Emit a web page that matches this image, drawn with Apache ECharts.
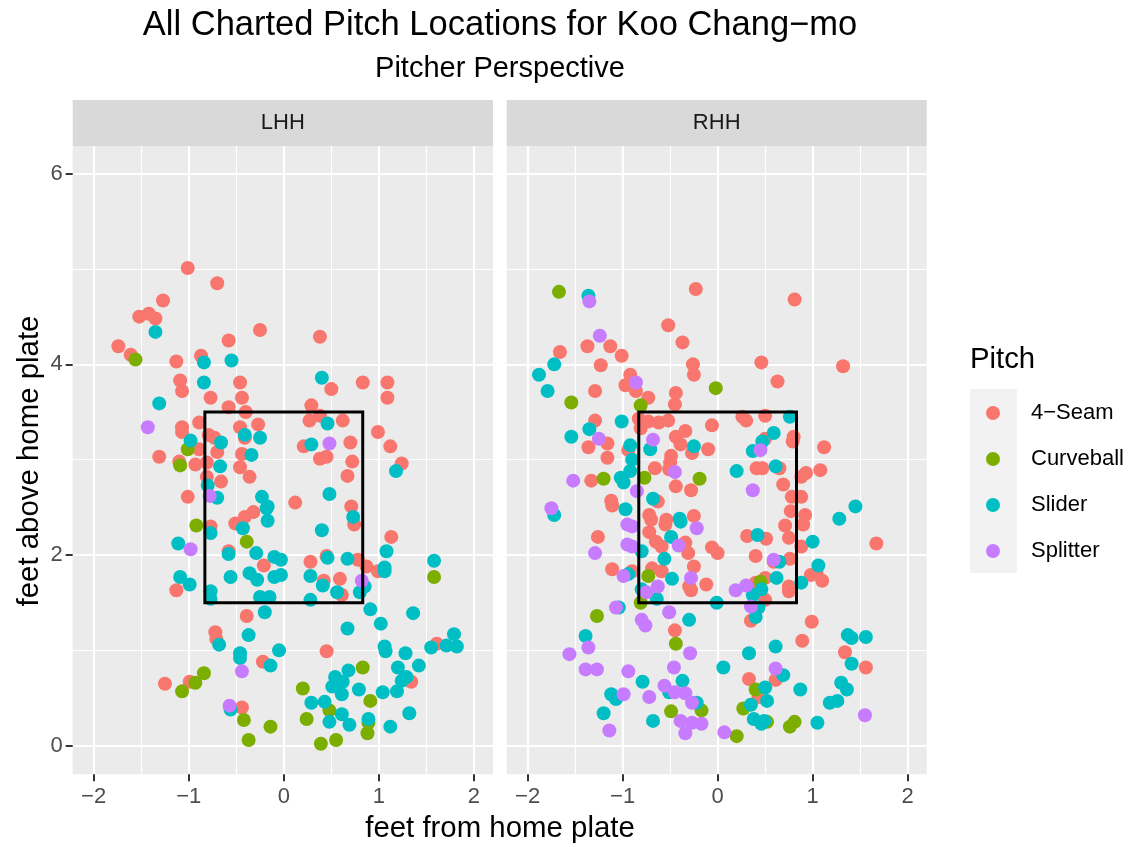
<!DOCTYPE html>
<html><head><meta charset="utf-8">
<script src="https://cdn.jsdelivr.net/npm/echarts@6/dist/echarts.min.js"></script>
<style>html,body{margin:0;padding:0;background:#fff}#c{width:1138px;height:847px}</style>
</head><body><div id="c"></div>
<script>
// ---- data ----
const pitchTypes = ['4-Seam', 'Curveball', 'Slider', 'Splitter'];
const pitchColors = ['#F8766D', '#7CAE00', '#00BFC4', '#C77CFF'];
const facets = ['LHH', 'RHH'];
const xTicks = [-2, -1, 0, 1, 2];
const xMinorTicks = [-1.5, -0.5, 0.5, 1.5];
const yTicks = [0, 2, 4, 6];
const yMinorTicks = [1, 3, 5];
const zoneX = [-0.83, 0.83, 0.83, -0.83, -0.83];
const zoneY = [1.5, 1.5, 3.5, 3.5, 1.5];

const lhhFourSeam = [[-1.01,5.01],[-0.70,4.85],[-1.27,4.67],[-1.52,4.50],[-1.42,4.53],[-1.35,4.48],[-0.25,4.36],[-1.74,4.19],[-1.61,4.10],[-0.58,4.25],[-1.13,4.03],[-0.87,4.09],[-1.09,3.83],[-1.07,3.72],[-0.46,3.81],[-0.77,3.65],[-0.44,3.65],[-0.58,3.55],[-0.40,3.50],[-1.07,3.34],[-1.07,3.29],[-0.89,3.39],[-0.46,3.34],[-0.27,3.37],[-0.41,3.23],[-0.79,3.26],[-0.73,3.23],[-0.89,3.11],[-0.70,3.08],[-0.44,3.06],[-1.31,3.03],[-1.10,2.98],[-0.93,2.95],[-0.81,2.97],[-0.46,2.92],[-0.36,2.82],[-0.81,2.82],[-0.66,2.77],[-1.01,2.61],
[0.38,4.29],[0.50,3.74],[0.83,3.81],[1.09,3.81],[1.09,3.65],[0.29,3.57],[0.38,3.46],[0.27,3.41],[0.62,3.41],[0.99,3.29],[0.21,3.14],[0.70,3.18],[1.12,3.14],[0.38,3.01],[0.45,3.03],[0.72,2.98],[1.24,2.96],[0.67,2.83],[0.12,2.55],[0.71,2.51],
[-0.77,2.30],[-0.51,2.33],[-0.41,2.40],[-0.32,2.45],[-0.58,2.04],[-0.21,1.89],[-1.13,1.63],[-0.39,1.36],[-0.72,1.19],[-0.71,1.12],[-0.22,0.88],[-1.25,0.65],[-0.99,0.67],[-0.44,0.40],
[0.74,2.32],[1.13,2.19],[0.28,1.93],[0.45,1.99],[0.78,1.95],[0.87,1.88],[0.99,1.83],[0.42,1.73],[0.59,1.75],[0.61,1.58],[0.45,0.99],[1.61,1.07],[1.34,0.67]];
const lhhCurveball = [[-1.56,4.05],[-1.01,3.11],[-1.09,2.94],[-0.92,2.31],[-0.39,2.14],[-0.84,0.76],[-0.93,0.66],[-1.07,0.57],[-0.42,0.27],[-0.14,0.20],[-0.37,0.06],[1.58,1.77],[0.83,0.82],[0.20,0.60],[0.91,0.47],[0.48,0.37],[0.24,0.28],[0.89,0.24],[0.88,0.13],[0.39,0.02],[0.55,0.06]];
const lhhSlider = [[-1.35,4.34],[-0.84,4.02],[-0.55,4.04],[-0.84,3.81],[-1.31,3.59],[-0.41,3.26],[-0.25,3.23],[-0.98,3.20],[-0.66,3.18],[-0.34,3.05],[-0.67,2.93],[-0.80,2.73],[-0.70,2.60],[-0.23,2.61],[-0.17,2.51],
[0.40,3.86],[0.46,3.38],[0.29,3.16],[1.18,2.88],[0.48,2.64],
[-0.77,2.23],[-0.43,2.28],[-0.18,2.49],[-0.17,2.36],[-1.11,2.12],[-0.58,2.01],[-0.29,2.02],[-0.10,1.98],[-0.03,1.95],[-0.36,1.81],[-0.28,1.74],[-0.10,1.77],[-0.03,1.79],[-0.56,1.77],[-1.09,1.77],[-0.99,1.69],[-0.77,1.62],[-0.77,1.54],[-0.25,1.56],[-0.15,1.56],[-0.20,1.40],[-0.68,1.06],[-0.37,1.16],[-0.46,0.97],[-0.46,0.92],[-0.05,1.00],[-0.14,0.84],[-0.56,0.38],
[0.73,2.40],[0.40,2.26],[1.08,2.04],[0.46,1.97],[0.67,1.96],[1.06,1.87],[1.06,1.83],[1.58,1.94],[0.28,1.78],[0.41,1.68],[0.56,1.61],[0.85,1.67],[0.80,1.61],[0.28,1.53],[0.91,1.43],[1.02,1.28],[1.36,1.39],[0.67,1.23],[1.06,1.04],[1.07,0.99],[1.28,0.97],[1.55,1.03],[1.71,1.05],[1.82,1.04],[1.79,1.17],[1.42,0.84],[1.20,0.82],[1.29,0.72],[1.24,0.68],[0.68,0.79],[0.54,0.72],[0.62,0.67],[0.51,0.62],[0.79,0.59],[0.61,0.54],[1.04,0.56],[1.19,0.57],[0.29,0.45],[0.43,0.46],[0.61,0.33],[1.32,0.34],[0.48,0.25],[0.69,0.22],[0.89,0.28],[1.12,0.20]];
const lhhSplitter = [[-1.43,3.34],[-0.78,2.62],[0.48,3.17],[-0.98,2.06],[-0.44,0.78],[-0.57,0.42],[0.82,1.73]];

const rhhFourSeam = [[-0.23,4.79],[-0.52,4.41],[-0.37,4.23],[-1.66,4.13],[-1.37,4.19],[-1.13,4.19],[-1.01,4.09],[-1.23,3.99],[-0.26,4.00],[-0.25,3.89],[-0.92,3.89],[-0.97,3.78],[-0.86,3.72],[-1.29,3.72],[-0.73,3.65],[-0.44,3.70],[-0.45,3.58],[-1.29,3.41],[-0.83,3.43],[-0.73,3.40],[-0.62,3.39],[-0.52,3.41],[-0.81,3.33],[-0.34,3.30],[-0.06,3.36],[-0.44,3.24],[-1.16,3.17],[-1.36,3.13],[-0.39,3.16],[-0.27,3.07],[-0.10,3.11],[-1.16,3.02],[-0.94,3.10],[-0.49,3.04],[-0.50,2.97],[-0.66,2.91],[-0.51,2.90],[-1.33,2.78],[-0.44,2.72],[-0.28,2.68],[-0.63,2.56],[-1.12,2.57],[-1.11,2.52],[-0.25,2.41],[-0.54,2.37],
[0.81,4.68],[0.46,4.02],[1.32,3.98],[0.63,3.82],[0.26,3.45],[0.30,3.41],[0.50,3.46],[0.50,3.22],[0.80,3.24],[0.79,3.19],[1.12,3.13],[0.41,2.91],[0.47,2.91],[0.65,2.91],[0.93,2.86],[0.88,2.82],[1.08,2.89],[0.69,2.74],[0.78,2.61],[0.88,2.61],[0.77,2.46],[0.92,2.42],
[-1.26,2.19],[-1.11,1.85],[-0.72,2.42],[-0.70,2.37],[-0.55,2.32],[-0.72,2.24],[-0.65,2.14],[-0.59,2.09],[-0.34,2.13],[-0.31,2.02],[-0.06,2.08],[0.00,2.02],[-0.25,1.88],[-0.90,1.83],[-0.69,1.86],[-0.59,1.83],[-0.30,1.67],[-0.28,1.63],[-0.12,1.69],[-0.45,1.21],
[1.67,2.12],[0.31,2.20],[0.51,2.17],[0.75,2.18],[0.71,2.31],[0.90,2.32],[0.88,2.09],[0.40,1.99],[0.59,1.93],[0.76,1.96],[0.98,1.79],[1.04,1.81],[1.10,1.73],[0.50,1.76],[0.40,1.71],[0.75,1.67],[0.75,1.62],[0.50,1.53],[0.35,1.31],[0.99,1.30],[0.89,1.10],[0.61,0.69],[0.33,0.70],[0.43,0.51],[1.34,0.98],[1.56,0.82]];
const rhhCurveball = [[-1.67,4.76],[-0.02,3.75],[-1.54,3.60],[-0.81,3.57],[-1.20,2.80],[-0.77,2.81],[-0.19,2.80],[-0.73,1.78],[-0.81,1.50],[-1.27,1.36],[-0.44,1.07],[-0.17,0.37],[-0.49,0.36],[0.45,1.72],[0.40,0.59],[0.27,0.39],[0.52,0.25],[0.76,0.20],[0.81,0.25],[0.20,0.10]];
const rhhSlider = [[-1.36,4.72],[-1.72,4.00],[-1.88,3.89],[-1.79,3.72],[-1.01,3.40],[-1.35,3.32],[-1.54,3.24],[-0.92,3.15],[-0.71,3.11],[-0.25,3.14],[-0.90,3.00],[-0.92,2.88],[-1.02,2.81],[-0.99,2.76],[-0.68,2.59],[-0.97,2.48],[-1.72,2.42],[-0.40,2.38],
[0.76,3.45],[0.59,3.28],[0.47,3.19],[0.37,3.09],[0.20,2.88],[0.61,2.93],[1.45,2.51],[1.28,2.38],
[-0.80,2.04],[-0.39,2.35],[-0.49,2.19],[-0.56,1.96],[-0.94,1.80],[-0.48,1.75],[-0.80,1.64],[-0.64,1.54],[-0.01,1.50],[-1.04,1.45],[-0.30,1.32],[-1.39,1.15],[-0.79,0.67],[-0.37,0.68],[0.06,0.82],[-1.12,0.54],[-1.07,0.49],[-0.51,0.56],[-0.22,0.45],[-1.20,0.34],[-0.68,0.26],
[0.42,2.21],[1.00,2.14],[0.65,1.93],[1.06,1.89],[0.88,1.71],[0.62,1.76],[0.46,1.64],[0.37,1.58],[0.43,1.45],[0.40,1.35],[0.61,1.04],[0.33,0.97],[0.69,0.74],[0.50,0.61],[0.52,0.47],[0.87,0.59],[0.35,0.43],[0.38,0.28],[0.46,0.23],[0.49,0.26],[1.05,0.24],[1.37,1.16],[1.41,1.13],[1.56,1.14],[1.41,0.86],[1.30,0.66],[1.36,0.59],[1.18,0.45],[1.26,0.47]];
const rhhSplitter = [[-1.35,4.66],[-1.24,4.30],[-0.86,3.81],[-1.25,3.22],[-0.68,3.21],[-0.45,2.87],[-1.52,2.78],[-0.85,2.67],[-1.75,2.49],[0.45,3.10],[0.37,2.68],
[-1.29,2.02],[-0.95,2.32],[-0.90,2.30],[-0.95,2.11],[-0.90,2.09],[-0.22,2.28],[-0.41,2.10],[-0.99,1.78],[-0.28,1.76],[-0.63,1.67],[-0.75,1.61],[-1.07,1.45],[-0.51,1.40],[-0.80,1.32],[-0.76,1.26],[-0.29,0.97],[-1.36,1.03],[-1.56,0.96],[-1.39,0.80],[-1.27,0.80],[-0.94,0.78],[-0.46,0.82],[-0.99,0.54],[-0.72,0.51],[-0.56,0.63],[-0.45,0.56],[-0.34,0.55],[-0.27,0.45],[-0.39,0.26],[-0.27,0.24],[-0.17,0.23],[-0.34,0.13],[-1.14,0.16],[0.07,0.14],
[0.59,1.95],[0.19,1.63],[0.30,1.68],[0.35,1.46],[0.61,0.81],[1.55,0.32]];

const facetData = [
  [lhhFourSeam, lhhCurveball, lhhSlider, lhhSplitter],
  [rhhFourSeam, rhhCurveball, rhhSlider, rhhSplitter]
];

// ---- layout ----
const FONT = 'Liberation Sans, Arial, sans-serif';
const panelLefts = [72.7, 506.7];
const panelWidths = [420.3, 420];
const panelTop = 146;
const panelHeight = 628.3;
const xRange = [-2.22, 2.2];
const yRange = [-0.30, 6.29];
const minus = v => String(v).replace('-', '\u2212');

const grids = [], xAxes = [], yAxes = [];
facets.forEach((f, fi) => {
  for (let k = 0; k < 2; k++) {
    const major = k === 0;
    grids.push({left: panelLefts[fi], top: panelTop, width: panelWidths[fi], height: panelHeight,
      show: false, containLabel: false, outerBoundsMode: 'none'});
    const gi = grids.length - 1;
    xAxes.push({
      type: 'value', gridIndex: gi, min: xRange[0], max: xRange[1], position: 'bottom',
      axisLine: {show: false, onZero: false},
      axisTick: {show: major, customValues: major ? xTicks : xMinorTicks, length: 7,
        lineStyle: {color: '#333333', width: 2}},
      axisLabel: {show: major, customValues: major ? xTicks : xMinorTicks, margin: 12,
        fontSize: 22, fontFamily: FONT, color: '#4D4D4D', formatter: minus},
      splitLine: {show: true, lineStyle: {color: '#FFFFFF', width: major ? 2.2 : 1.1}},
      minorSplitLine: {show: false}
    });
    const showY = major && fi === 0;
    yAxes.push({
      type: 'value', gridIndex: gi, min: yRange[0], max: yRange[1], position: 'left',
      axisLine: {show: false, onZero: false},
      axisTick: {show: showY, customValues: major ? yTicks : yMinorTicks, length: 7,
        lineStyle: {color: '#333333', width: 2}},
      axisLabel: {show: showY, customValues: major ? yTicks : yMinorTicks, margin: 10,
        fontSize: 22, fontFamily: FONT, color: '#4D4D4D', formatter: minus},
      splitLine: {show: true, lineStyle: {color: '#FFFFFF', width: major ? 2.2 : 1.1}}
    });
  }
});

const series = [];
facets.forEach((f, fi) => {
  const ai = fi * 2;
  pitchTypes.forEach((p, pi) => {
    series.push({
      type: 'scatter', name: p, xAxisIndex: ai, yAxisIndex: ai,
      data: facetData[fi][pi], symbol: 'circle', symbolSize: 14,
      itemStyle: {color: pitchColors[pi], opacity: 1, borderWidth: 0},
      emphasis: {disabled: true}, z: 3, animation: false
    });
  });
  series.push({
    type: 'line', xAxisIndex: ai, yAxisIndex: ai,
    data: zoneX.map((x, i) => [x, zoneY[i]]),
    symbol: 'none', showSymbol: false, silent: true, z: 5,
    lineStyle: {color: '#000000', width: 3, cap: 'square', join: 'miter'},
    animation: false
  });
});

const graphics = [];
facets.forEach((f, fi) => {
  graphics.push({type: 'rect', z: -10, silent: true,
    shape: {x: panelLefts[fi], y: panelTop, width: panelWidths[fi], height: panelHeight},
    style: {fill: '#EBEBEB'}});
  graphics.push({type: 'rect', z: -10, silent: true,
    shape: {x: panelLefts[fi], y: 100, width: panelWidths[fi], height: 46},
    style: {fill: '#D9D9D9'}});
  graphics.push({type: 'text', z: 10, silent: true, x: panelLefts[fi] + panelWidths[fi] / 2, y: 123,
    style: {text: f, fill: '#1A1A1A', fontSize: 22, fontFamily: FONT,
      align: 'center', verticalAlign: 'middle', textAlign: 'center', textVerticalAlign: 'middle'}});
});
function txt(t, x, y, size, opts) {
  return Object.assign({type: 'text', z: 10, silent: true, x: x, y: y,
    style: {text: t, fill: '#000000', fontSize: size, fontFamily: FONT,
      align: 'center', verticalAlign: 'middle', textAlign: 'center', textVerticalAlign: 'middle'}}, opts || {});
}
graphics.push(txt('All Charted Pitch Locations for Koo Chang\u2212mo', 500, 25, 34.5));
graphics.push(txt('Pitcher Perspective', 500, 69, 29));
graphics.push(txt('feet from home plate', 500, 829, 29.4));
graphics.push(txt('feet above home plate', 30, 461, 29.4, {rotation: Math.PI / 2}));
const lt = txt('Pitch', 970, 360, 29.3);
lt.style.align = 'left'; lt.style.textAlign = 'left';
graphics.push(lt);
graphics.push({type: 'rect', z: -10, silent: true, shape: {x: 970, y: 389, width: 47, height: 184},
  style: {fill: '#F2F2F2'}});

const chart = echarts.init(document.getElementById('c'), null, {renderer: 'canvas'});
chart.setOption({
  animation: false,
  backgroundColor: '#FFFFFF',
  grid: grids, xAxis: xAxes, yAxis: yAxes, series: series,
  legend: {
    data: pitchTypes, orient: 'vertical', left: 986, top: 402, padding: 0,
    itemWidth: 14, itemHeight: 14, itemGap: 24, icon: 'circle',
    selectedMode: false,
    formatter: minus,
    textStyle: {fontSize: 22, fontFamily: FONT, color: '#000000', padding: [0, 0, 0, 26]}
  },
  graphic: graphics,
  tooltip: {show: false}
});
</script></body></html>
